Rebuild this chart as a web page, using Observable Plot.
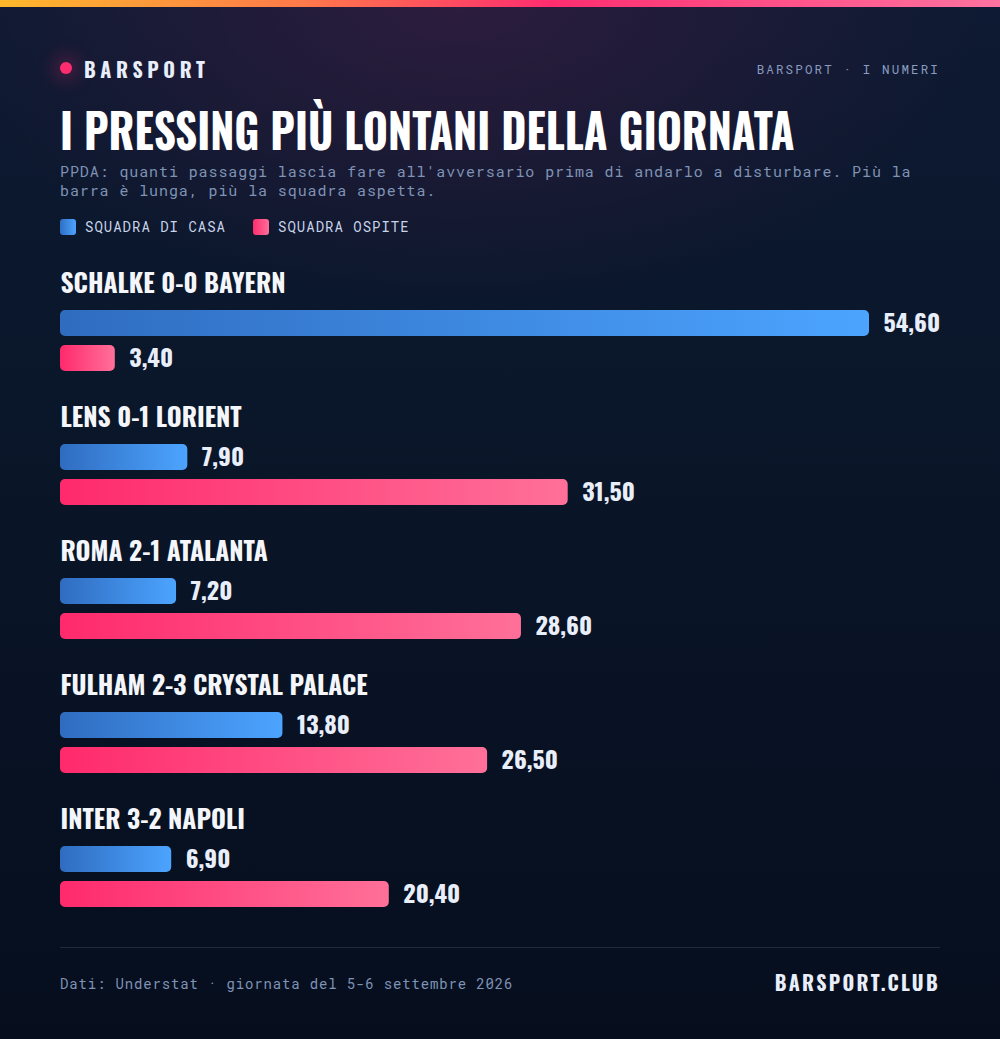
<!DOCTYPE html>
<html>
<head>
<meta charset="utf-8">
<script src="https://cdn.jsdelivr.net/npm/d3@7"></script>
<script src="https://cdn.jsdelivr.net/npm/@observablehq/plot@0.6"></script>
<style>
  html, body { margin: 0; padding: 0; }
  body {
    width: 1000px; height: 1039px; overflow: hidden; position: relative;
    background:
      radial-gradient(ellipse 520px 300px at 460px 0px, rgba(70,30,70,0.55), rgba(70,30,70,0) 100%),
      linear-gradient(180deg, #0e1a33 0%, #0a1629 40%, #060e1e 100%);
    color: #e8eefa;
  }
  .cond { font-family: Oswald, "Liberation Sans Narrow", "DejaVu Sans Condensed", "Roboto Condensed", sans-serif; font-stretch: condensed; font-weight: 700; }
  .mono { font-family: "Roboto Mono", "DejaVu Sans Mono", "Liberation Mono", monospace; }
  .abs { position: absolute; }
  #stripe { left: 0; top: 0; width: 1000px; height: 7px; background: linear-gradient(90deg, #ffb82c 0%, #ff7a4a 30%, #ff2d6f 55%, #ff4d86 75%, #ff73a0 100%); }
  #dot { left: 60px; top: 62px; width: 12px; height: 12px; border-radius: 50%; background: #ff2d6f; box-shadow: 0 0 18px 6px rgba(255,45,111,0.25); }
  #brand { left: 84px; top: 56px; font-size: 20px; letter-spacing: 4.6px; line-height: 26px; color: #e8eefa; }
  #kicker { right: 60px; top: 60px; font-size: 12.5px; letter-spacing: 2.15px; line-height: 18px; color: #8a9cc0; }
  #title { left: 60px; top: 99px; font-size: 48px; line-height: 60px; color: #ffffff; white-space: nowrap; transform: scaleX(0.897); transform-origin: 0 50%; }
  #subtitle { left: 60px; top: 162px; width: 880px; font-size: 15px; letter-spacing: 0.9px; line-height: 19px; color: #7f93b5; }
  #legend { left: 60px; top: 218px; font-size: 14px; letter-spacing: 1px; line-height: 18px; color: #c8d4ea; display: flex; align-items: center; }
  .sw { width: 16px; height: 16px; border-radius: 3px; display: inline-block; margin-right: 9px; }
  #chart { left: 0; top: 260px; }
  #rule { left: 60px; top: 947px; width: 880px; height: 1px; background: #1e2a3d; }
  #source { left: 60px; top: 975px; font-size: 14px; letter-spacing: 0.85px; line-height: 18px; color: #7f93b5; }
  #site { right: 60px; top: 969px; font-size: 20px; letter-spacing: 2.3px; line-height: 26px; color: #e8eefa; }
</style>
</head>
<body>
<div id="stripe" class="abs"></div>
<div id="dot" class="abs"></div>
<div id="brand" class="abs cond">BARSPORT</div>
<div id="kicker" class="abs mono">BARSPORT · I NUMERI</div>
<div id="title" class="abs cond">I PRESSING PIÙ LONTANI DELLA GIORNATA</div>
<div id="subtitle" class="abs mono">PPDA: quanti passaggi lascia fare all'avversario prima di andarlo a disturbare. Più la barra è lunga, più la squadra aspetta.</div>
<div id="legend" class="abs mono">
  <span class="sw" style="background:linear-gradient(90deg,#2f6fc4,#4da3ff)"></span><span style="margin-right:27px">SQUADRA DI CASA</span>
  <span class="sw" style="background:linear-gradient(90deg,#ff2d6f,#ff6f9a)"></span><span>SQUADRA OSPITE</span>
</div>
<div id="chart" class="abs"></div>
<div id="rule" class="abs"></div>
<div id="source" class="abs mono">Dati: Understat · giornata del 5-6 settembre 2026</div>
<div id="site" class="abs cond">BARSPORT.CLUB</div>

<script>
// ---- data ----
const matches = ["SCHALKE 0-0 BAYERN", "LENS 0-1 LORIENT", "ROMA 2-1 ATALANTA", "FULHAM 2-3 CRYSTAL PALACE", "INTER 3-2 NAPOLI"];
const sides = ["casa", "ospite"];
const homePPDA = [54.6, 7.9, 7.2, 13.8, 6.9];
const awayPPDA = [3.4, 31.5, 28.6, 26.5, 20.4];

const rows = [];
matches.forEach((m, i) => {
  rows.push({match: m, side: "casa", value: homePPDA[i]});
  rows.push({match: m, side: "ospite", value: awayPPDA[i]});
});

const fmt = v => v.toFixed(2).replace(".", ",");
const maxValue = d3.max(rows, d => d.value);
const W = 1000, left = 60, right = 60;
const inner = W - left - right;       // 880
const labelRoom = 71;                 // space kept for the longest bar's label
const xMaxPx = left + inner - labelRoom;
const xDomainMax = maxValue * (inner - labelRoom) / inner;

const condFont = 'Oswald, "Liberation Sans Narrow", "DejaVu Sans Condensed", "Roboto Condensed", sans-serif';

const defs = () => {
  const g = d3.create("svg:defs");
  const a = g.append("linearGradient").attr("id", "gHome");
  a.append("stop").attr("offset", "0%").attr("stop-color", "#2f6cc0");
  a.append("stop").attr("offset", "100%").attr("stop-color", "#4ca4ff");
  const b = g.append("linearGradient").attr("id", "gAway");
  b.append("stop").attr("offset", "0%").attr("stop-color", "#ff2a6c");
  b.append("stop").attr("offset", "100%").attr("stop-color", "#ff7099");
  return g.node();
};

const plot = Plot.plot({
  width: W,
  height: 670,
  marginLeft: left,
  marginRight: right,
  marginTop: 0,
  marginBottom: 0,
  style: {background: "transparent", overflow: "visible"},
  x: {domain: [0, xDomainMax], range: [left, xMaxPx], clamp: true, axis: null},
  fy: {domain: matches, padding: 0, axis: null},
  y: {domain: sides, range: [50, 111], paddingInner: 9 / 35, paddingOuter: 0, axis: null},
  marks: [
    defs,
    Plot.barX(rows.filter(d => d.side === "casa"), {x: "value", y: "side", fy: "match", fill: "url(#gHome)", rx: 5}),
    Plot.barX(rows.filter(d => d.side === "ospite"), {x: "value", y: "side", fy: "match", fill: "url(#gAway)", rx: 5}),
    Plot.text(rows, {x: "value", y: "side", fy: "match", text: d => fmt(d.value), dx: 14, dy: 1, textAnchor: "start",
      fill: "#e8eefa", fontSize: 24, fontWeight: 700, fontFamily: condFont}),
    Plot.text(matches, {fy: d => d, text: d => d, frameAnchor: "top-left", dy: 24, lineAnchor: "middle",
      textAnchor: "start", fill: "#f4f6fb", fontSize: 25.5, fontWeight: 700, fontFamily: condFont})
  ]
});
plot.querySelectorAll("text").forEach(t => t.style.fontStretch = "condensed");
document.getElementById("chart").appendChild(plot);
</script>
</body>
</html>
